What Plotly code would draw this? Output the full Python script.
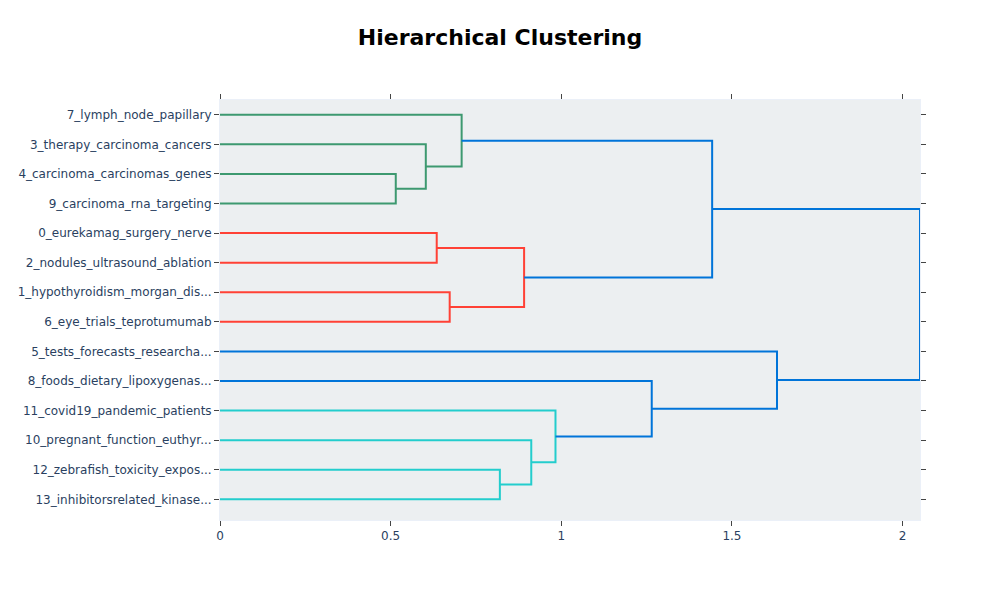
import plotly.graph_objects as go

# Leaf labels, top to bottom
leaf_labels = [
    "7_lymph_node_papillary",
    "3_therapy_carcinoma_cancers",
    "4_carcinoma_carcinomas_genes",
    "9_carcinoma_rna_targeting",
    "0_eurekamag_surgery_nerve",
    "2_nodules_ultrasound_ablation",
    "1_hypothyroidism_morgan_dis...",
    "6_eye_trials_teprotumumab",
    "5_tests_forecasts_researcha...",
    "8_foods_dietary_lipoxygenas...",
    "11_covid19_pandemic_patients",
    "10_pregnant_function_euthyr...",
    "12_zebrafish_toxicity_expos...",
    "13_inhibitorsrelated_kinase...",
]

# Merges: (child_a, child_b, height, color). Children "L<i>" are leaves (by row), "M<j>" are merges.
merge_a = ["L2", "L1", "L0", "L4", "L6", "M3", "M2", "L12", "L11", "L10", "L9", "L8", "M6"]
merge_b = ["L3", "M0", "M1", "L5", "L7", "M4", "M5", "L13", "M7", "M8", "M9", "M10", "M11"]
merge_h = [0.515, 0.603, 0.708, 0.635, 0.673, 0.891, 1.442, 0.820, 0.912, 0.983, 1.265, 1.632, 2.051]
merge_c = ["g", "g", "g", "r", "r", "r", "b", "c", "c", "c", "b", "b", "b"]

x_ticks = [0, 0.5, 1, 1.5, 2]
x_tick_text = ["0", "0.5", "1", "1.5", "2"]

palette = {
    "g": "rgb(61,153,112)",
    "r": "rgb(255,65,54)",
    "c": "rgb(35,205,205)",
    "b": "rgb(0,116,217)",
}

n = len(leaf_labels)
leaf_y = [5 + 10 * (n - 1 - i) for i in range(n)]

pos = {}
for i in range(n):
    pos["L%d" % i] = (0.0, leaf_y[i])

fig = go.Figure()
for j, (a, b, h, c) in enumerate(zip(merge_a, merge_b, merge_h, merge_c)):
    xa, ya = pos[a]
    xb, yb = pos[b]
    fig.add_trace(go.Scatter(
        x=[xa, h, h, xb], y=[ya, ya, yb, yb],
        mode="lines", line=dict(color=palette[c], width=2),
        hoverinfo="text", showlegend=False,
    ))
    pos["M%d" % j] = (h, (ya + yb) / 2)

fig.update_layout(
    template="plotly_white",
    plot_bgcolor="#ECEFF1",
    width=1000, height=600,
    font=dict(family="DejaVu Sans"),
    margin=dict(l=212, r=88, t=92, b=88),
    title=dict(text="<b>Hierarchical Clustering</b>", x=0.492, xanchor="center",
               y=0.952, yanchor="middle",
               font=dict(size=22, color="black", family="DejaVu Sans")),
    showlegend=False,
)
fig.update_xaxes(
    range=[0, max(merge_h)], ticks="outside", mirror="allticks", showline=True,
    showgrid=False, zeroline=False, tickmode="array",
    tickvals=x_ticks, ticktext=x_tick_text, automargin=False,
)
fig.update_yaxes(
    range=[-2, 140], ticks="outside", mirror="allticks", showline=True,
    showgrid=False, zeroline=False, tickmode="array",
    tickvals=leaf_y, ticktext=leaf_labels, automargin=False,
)
fig.write_html("out.html")
